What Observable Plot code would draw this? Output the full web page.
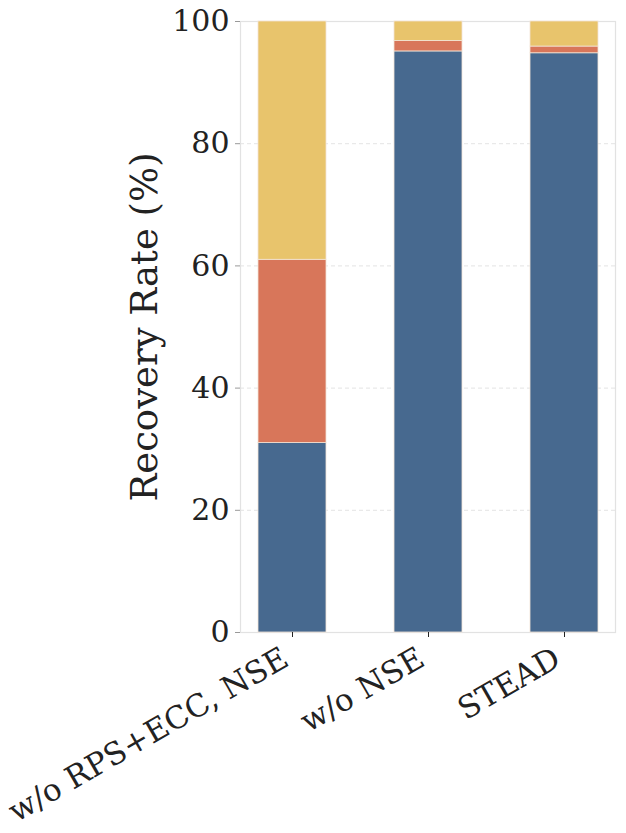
<!DOCTYPE html>
<html>
<head>
<meta charset="utf-8">
<script src="https://cdn.jsdelivr.net/npm/d3@7"></script>
<script src="https://cdn.jsdelivr.net/npm/@observablehq/plot@0.6"></script>
<style>
  html, body { margin: 0; padding: 0; background: #fff; }
  #chart svg { display: block; }
</style>
</head>
<body>
<div id="chart"></div>
<script>
const methods = ["w/o RPS+ECC, NSE", "w/o NSE", "STEAD"];
const parts = ["Recovered", "Partial", "Failed"];
const recovered = [31.0, 95.1, 94.8];
const partial = [30.0, 1.7, 1.1];
const failed = [39.0, 3.2, 4.1];
const partColors = ["#47698f", "#d8765a", "#e8c46c"];
const yTicks = [0, 20, 40, 60, 80, 100];
const yLabel = "Recovery Rate (%)";

const series = [recovered, partial, failed];
const data = [];
methods.forEach((m, i) => {
  parts.forEach((p, j) => data.push({method: m, part: p, value: series[j][i]}));
});

const font = "'DejaVu Serif', serif";

const chart = Plot.plot({
  width: 626,
  height: 833,
  marginLeft: 240,
  marginRight: 11,
  marginTop: 21,
  marginBottom: 201,
  style: {fontFamily: font, color: "#222", background: "#fff"},
  x: {domain: methods, paddingInner: 0.5, paddingOuter: 0.12, label: null},
  y: {domain: [0, 100], label: null},
  color: {domain: parts, range: partColors},
  marks: [
    Plot.gridY(yTicks.filter(d => d > 0 && d < 100), {stroke: "#dcdcdc", strokeOpacity: 1, strokeDasharray: "4,3", strokeWidth: 0.8}),
    Plot.frame({stroke: "#e2e2e2", strokeWidth: 1.2}),
    Plot.barY(data, {x: "method", y: "value", fill: "part", stroke: "#f2e4d6", strokeWidth: 0.8}),
    Plot.axisY({ticks: yTicks, tickSize: 5, tickPadding: 6, stroke: "#999", fontSize: 30, label: null, tickFormat: d => d}),
    Plot.axisX({tickSize: 5, stroke: "#222", text: null, label: null}),
    Plot.text(methods, {x: d => d, frameAnchor: "bottom", dx: -2, dy: 32, textAnchor: "end", lineAnchor: "bottom", rotate: -30, fontSize: 31, fill: "#222"}),
    Plot.text([yLabel], {frameAnchor: "left", dx: -95, rotate: -90, textAnchor: "middle", lineAnchor: "middle", fontSize: 37, fill: "#222"})
  ]
});
document.getElementById("chart").appendChild(chart);
</script>
</body>
</html>
